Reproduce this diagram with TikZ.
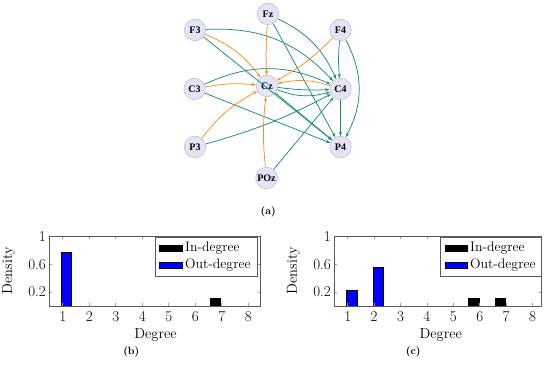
\documentclass[tikz,border=0pt]{standalone}
\usepackage{fontspec}
\newfontfamily\nodefont{Liberation Serif}
\usetikzlibrary{arrows.meta}
\definecolor{tealE}{RGB}{22,138,132}
\definecolor{orangeE}{RGB}{255,142,24}
\definecolor{nodefill}{RGB}{228,228,246}
\definecolor{nodedraw}{RGB}{192,192,214}
\definecolor{axisgray}{RGB}{90,90,90}
\definecolor{tickgray}{RGB}{160,160,160}
\begin{document}
\begin{tikzpicture}[x=1pt,y=1pt,
  vtx/.style={circle, fill=nodefill, draw=nodedraw, line width=0.6pt, minimum size=21.5pt, inner sep=0pt, font=\nodefont\fontsize{10}{12}\selectfont\bfseries},
  te/.style={draw=tealE, line width=0.75pt, -{Stealth[length=4.2pt,width=3.2pt]}},
  oe/.style={draw=orangeE, line width=0.75pt, -{Stealth[length=4.2pt,width=3.2pt]}},
  axisbox/.style={draw=axisgray, line width=0.6pt},
  tickline/.style={draw=tickgray, line width=0.5pt},
  ticklab/.style={font=\fontsize{15}{17}\selectfont, inner sep=0pt},
  axlab/.style={font=\fontsize{14.5}{17}\selectfont, inner sep=0pt},
  leglab/.style={font=\fontsize{13.8}{16}\selectfont, inner sep=0pt, anchor=west},
  inbar/.style={fill=black, draw=black, line width=0.5pt},
  outbar/.style={fill=blue, draw=black, line width=0.5pt},
  capnode/.style={font=\fontsize{10.5}{12}\selectfont\bfseries, inner sep=0pt}
]
\useasboundingbox (0,0) rectangle (550,-371);

% ---------------- (a) graph ----------------
\node[vtx] (Fz)  at (268,-14)   {Fz};
\node[vtx] (F3)  at (195,-30)   {F3};
\node[vtx] (F4)  at (340.5,-30) {F4};
\node[vtx] (C3)  at (194.5,-89) {C3};
\node[vtx] (Cz)  at (267,-86)   {Cz};
\node[vtx] (C4)  at (340.5,-89) {C4};
\node[vtx] (P3)  at (195,-147)  {P3};
\node[vtx] (P4)  at (340.5,-147){P4};
\node[vtx] (POz) at (266.5,-178){POz};

% teal edges
\draw[te] (F3) to[bend left=25] (C4);
\draw[te] (F3) -- (P4);
\draw[te] (Fz) to[bend left=20] (C4);
\draw[te] (Fz) -- (P4);
\draw[te] (F4) to[bend right=5] (C4);
\draw[te] (F4) to[bend left=28] (P4);
\draw[te] (C3) to[bend left=25] (C4);
\draw[te] (C3) -- (P4);
\draw[te] (Cz) to[bend right=5] (C4);
\draw[te] (Cz) to[bend right=18] (C4);
\draw[te] (Cz) -- (P4);
\draw[te] (C4) -- (P4);
\draw[te] (P3) to[bend right=6] (C4);
\draw[te] (POz) -- (C4);

% orange edges
\draw[oe] (F3) to[bend left=15] (Cz);
\draw[oe] (Fz) to[bend right=3] (Cz);
\draw[oe] (F4) to[bend left=8] (Cz);
\draw[oe] (C3) to[bend left=8] (Cz);
\draw[oe] (C4) to[bend right=15] (Cz);
\draw[oe] (P3) to[bend left=12] (Cz);
\draw[oe] (POz) to[bend left=6] (Cz);

\node[capnode] (capa) at (268.3,-211.7) {(a)};

% ---------------- (b) histogram ----------------
\draw[outbar] (61.7,-306) rectangle (71.7,-252.1);
\draw[inbar] (210.7,-306) rectangle (220.7,-298.3);
\foreach \d in {1,...,8} {
  \pgfmathsetmacro\xx{62.7+(\d-1)*26.5}
  \draw[tickline] (\xx,-306) -- ++(0,2.8);
  \draw[tickline] (\xx,-236.7) -- ++(0,-2.8);
  \node[ticklab] (bx\d) at (\xx,-316.7) {\d};
}
\foreach \v/\t/\n in {0.2/0.2/1,0.6/0.6/2,1/1/3} {
  \pgfmathsetmacro\yy{-306+\v*69.3}
  \draw[tickline] (49.3,\yy) -- ++(2.8,0);
  \draw[tickline] (260.7,\yy) -- ++(-2.8,0);
  \node[ticklab, anchor=east] (by\n) at (46,\yy) {\t};
}
\draw[axisbox] (49.3,-306) rectangle (260.7,-236.7);
\draw[axisbox, fill=white] (155.7,-237.7) rectangle (257.3,-276);
\draw[inbar] (159.3,-245.3) rectangle (182.7,-251.3);
\node[leglab] (bl1) at (185,-248.3) {In-degree};
\draw[outbar] (159.3,-262) rectangle (182.7,-268);
\node[leglab] (bl2) at (185,-265) {Out-degree};
\node[axlab, rotate=90] (bylab) at (8.7,-270.7) {Density};
\node[axlab] (bxlab) at (155.5,-335) {Degree};
\node[capnode] (capb) at (131.3,-352.3) {(b)};

% ---------------- (c) histogram ----------------
\draw[outbar] (346.5,-306) rectangle (356.9,-290.6);
\draw[outbar] (372.9,-306) rectangle (383.3,-267.5);
\draw[inbar] (468.5,-306) rectangle (478.9,-298.3);
\draw[inbar] (494.9,-306) rectangle (505.3,-298.3);
\foreach \d in {1,...,8} {
  \pgfmathsetmacro\xx{347.7+(\d-1)*26.4}
  \draw[tickline] (\xx,-306) -- ++(0,2.8);
  \draw[tickline] (\xx,-236.7) -- ++(0,-2.8);
  \node[ticklab] (cx\d) at (\xx,-316.7) {\d};
}
\foreach \v/\t/\n in {0.2/0.2/1,0.6/0.6/2,1/1/3} {
  \pgfmathsetmacro\yy{-306+\v*69.3}
  \draw[tickline] (334.3,\yy) -- ++(2.8,0);
  \draw[tickline] (541.7,\yy) -- ++(-2.8,0);
  \node[ticklab, anchor=east] (cy\n) at (331,\yy) {\t};
}
\draw[axisbox] (334.3,-306) rectangle (541.7,-236.7);
\draw[axisbox, fill=white] (440.7,-237.7) rectangle (541.7,-276);
\draw[inbar] (445,-245.3) rectangle (467.7,-251.3);
\node[leglab] (cl1) at (470,-248.3) {In-degree};
\draw[outbar] (445,-262) rectangle (467.7,-268);
\node[leglab] (cl2) at (470,-265) {Out-degree};
\node[axlab, rotate=90] (cylab) at (293.3,-270.7) {Density};
\node[axlab] (cxlab) at (440.7,-335) {Degree};
\node[capnode] (capc) at (413.3,-352) {(c)};
\end{tikzpicture}
\end{document}
